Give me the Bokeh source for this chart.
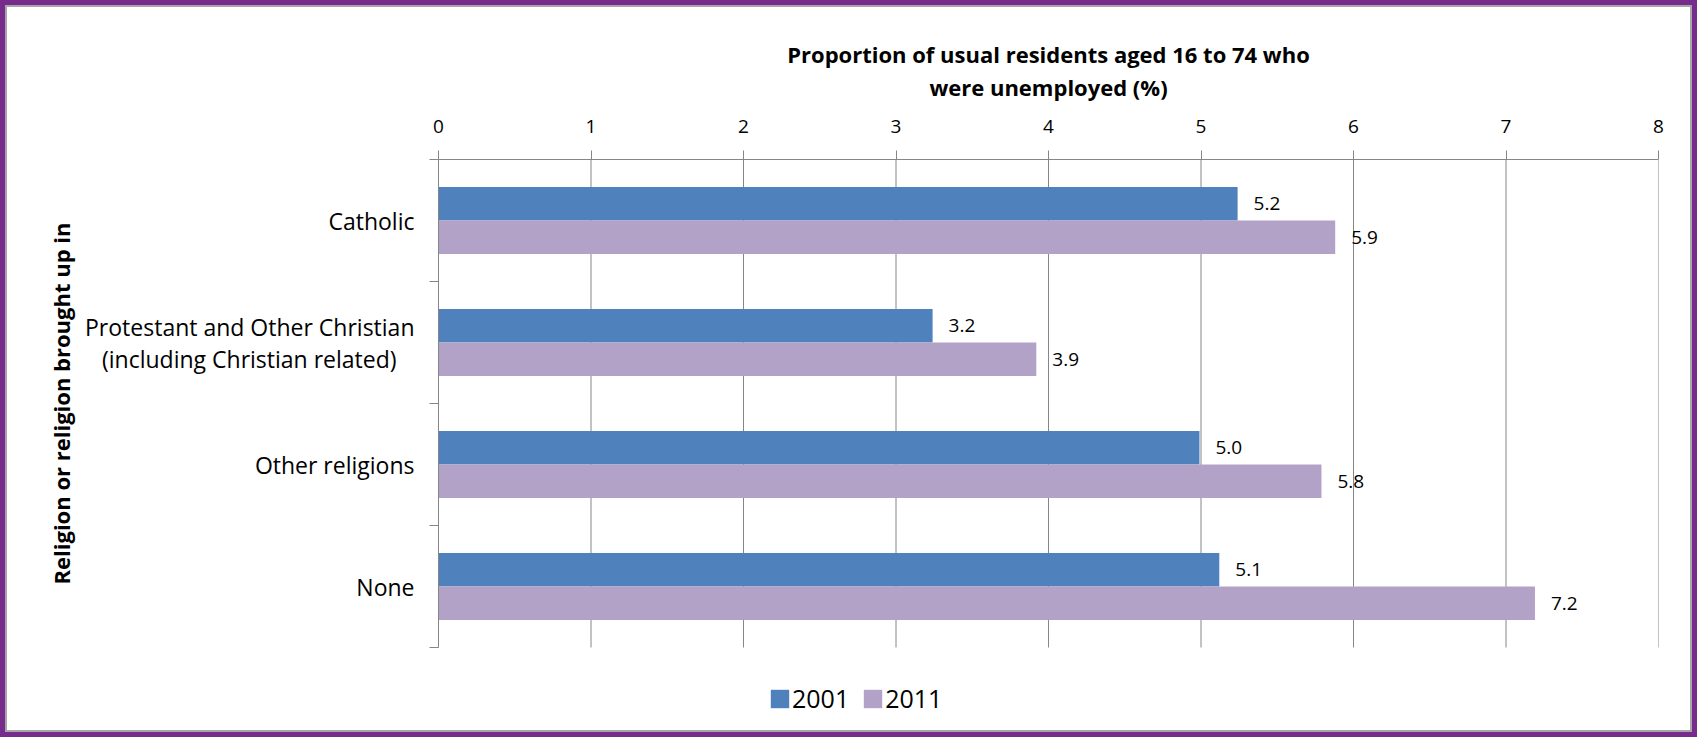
from bokeh.plotting import figure
from bokeh.models import Range1d, FixedTicker, Legend, LegendItem, ColumnDataSource, Title
from bokeh.core.properties import value
from bokeh.embed import file_html
from bokeh.resources import INLINE

# ---- data ----
categories = ["Catholic",
              "Protestant and Other Christian\n(including Christian related)",
              "Other religions",
              "None"]
years = ["2001", "2011"]
values_2001 = [5.24, 3.24, 4.99, 5.12]
values_2011 = [5.88, 3.92, 5.79, 7.19]
x_ticks = [0, 1, 2, 3, 4, 5, 6, 7, 8]
x_title = "Proportion of usual residents aged 16 to 74 who\nwere unemployed (%)"
y_title = "Religion or religion brought up in"

# ---- styles ----
FONT = "Open Sans"
GRID = "#868686"
C2001 = "#4F81BD"
C2011 = "#B3A2C7"

# page frame: 5px purple outline + 2px grey border around the canvas
B = 7
W, H = 1701 - 2 * B, 741 - 2 * B
FRAME_L, FRAME_T, FRAME_R = 438 - B, 159 - B, 1658 - B
CAT_BOTTOM = 647 - B
Y_TITLE_HALF = 181          # approx. half length of the rotated y title, px

n = len(categories)
ypos = [n - 1 - i for i in range(n)]
bar_h = 0.275
off = 0.138
unit_px = (CAT_BOTTOM - FRAME_T) / n
ext = (H - CAT_BOTTOM) / unit_px   # room below the categories for the legend

src1 = ColumnDataSource(dict(y=[y + off for y in ypos], v=values_2001,
                             lab=[f"{v:.1f}" for v in values_2001]))
src2 = ColumnDataSource(dict(y=[y - off for y in ypos], v=values_2011,
                             lab=[f"{v:.1f}" for v in values_2011]))

p = figure(width=W, height=H,
           x_range=Range1d(x_ticks[0], x_ticks[-1]),
           y_range=Range1d(-0.5 - ext, n - 0.5),
           x_axis_location="above",
           output_backend="svg", toolbar_location=None,
           min_border_left=FRAME_L, min_border_right=W - FRAME_R,
           min_border_top=FRAME_T, min_border_bottom=0)
p.styles = {"margin": "5px", "border": "2px solid #A6A6A6",
            "outline": "5px solid #772B8C"}
p.outline_line_color = None
p.background_fill_color = "white"
p.border_fill_color = "white"

# vertical gridlines, limited to the category area
p.segment(x0=x_ticks, x1=x_ticks, y0=[-0.5] * len(x_ticks), y1=[n - 0.5] * len(x_ticks),
          line_color=GRID, line_width=1)

r1 = p.hbar(y="y", right="v", left=0, height=bar_h, source=src1,
            fill_color=C2001, line_color=None)
r2 = p.hbar(y="y", right="v", left=0, height=bar_h, source=src2,
            fill_color=C2011, line_color=None)

for s in (src1, src2):
    p.text(x="v", y="y", text="lab", source=s, x_offset=16,
           text_align="left", text_baseline="middle",
           text_font=value(FONT), text_font_size="19px", text_color="black")

# x axis (top)
xa = p.xaxis[0]
xa.ticker = FixedTicker(ticks=x_ticks, minor_ticks=[])
xa.axis_line_color = GRID
xa.major_tick_line_color = GRID
xa.major_tick_out = 9
xa.major_tick_in = 0
xa.minor_tick_line_color = None
xa.major_label_text_font = FONT
xa.major_label_text_font_size = "19px"
xa.major_label_text_color = "black"
xa.major_label_standoff = 18
xa.axis_label = x_title
xa.axis_label_text_font = FONT
xa.axis_label_text_font_style = "bold"
xa.axis_label_text_font_size = "22px"
xa.axis_label_text_color = "black"
xa.axis_label_text_line_height = 1.1
xa.axis_label_standoff = 15

# y axis (left): category names centred line by line
def centred(label):
    lines = label.split("\n")
    if len(lines) == 2:
        lines[1] = lines[1] + "\u00a0" * 3
    return "\n".join(lines)

ya = p.yaxis[0]
ya.bounds = (-0.5, n - 0.5)
ya.ticker = FixedTicker(ticks=ypos, minor_ticks=[y - 0.5 for y in range(n + 1)])
ya.major_label_overrides = {y: centred(c) for y, c in zip(ypos, categories)}
ya.axis_line_color = GRID
ya.major_tick_line_color = None
ya.major_tick_out = 0
ya.major_tick_in = 0
ya.minor_tick_line_color = GRID
ya.minor_tick_out = 9
ya.minor_tick_in = 0
ya.major_label_text_font = FONT
ya.major_label_text_font_size = "23px"
ya.major_label_text_line_height = 1.0
ya.major_label_text_color = "black"
ya.major_label_standoff = 15

# y title centred on the category area (not on the whole frame)
cat_mid = (FRAME_T + CAT_BOTTOM) / 2
p.add_layout(Title(text=y_title, align="left",
                   offset=H - (cat_mid + Y_TITLE_HALF),
                   text_font=FONT, text_font_style="bold", text_font_size="22px",
                   text_color="black", standoff=13), "left")

p.xgrid.grid_line_color = None
p.ygrid.grid_line_color = None

legend = Legend(items=[LegendItem(label=years[0], renderers=[r1]),
                       LegendItem(label=years[1], renderers=[r2])],
                orientation="horizontal", location=(330, 26 - B),
                padding=0, margin=0, spacing=12, label_standoff=1,
                glyph_width=23, glyph_height=23,
                label_text_font=FONT, label_text_font_size="25px",
                label_text_color="black",
                background_fill_alpha=0, border_line_color=None)
p.add_layout(legend, "center")

open("out.html", "w").write(file_html(p, INLINE))
